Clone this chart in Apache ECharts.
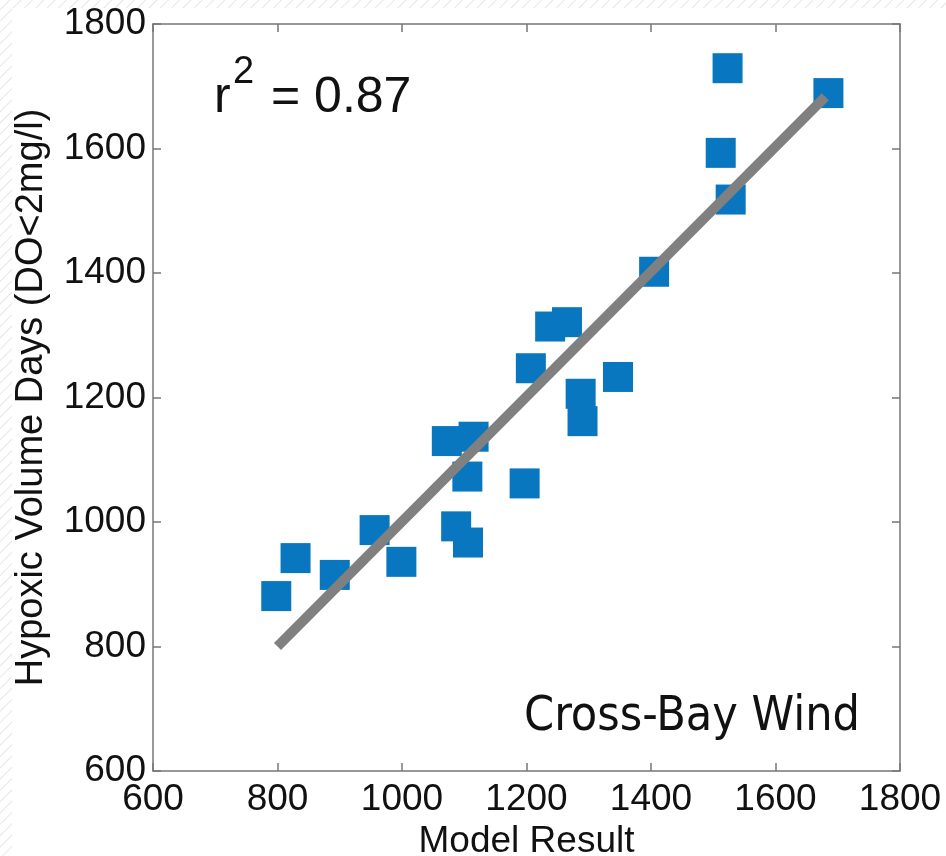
<!DOCTYPE html>
<html>
<head>
<meta charset="utf-8">
<script src="https://cdn.jsdelivr.net/npm/echarts@6/dist/echarts.min.js"></script>
<style>
  html, body { margin: 0; padding: 0; }
  #wrap { position: relative; width: 946px; height: 856px;
    background: repeating-linear-gradient(135deg, #ffffff 0px, #ffffff 6px, #e6e6e6 7px, #ffffff 8px); }
  #white { position: absolute; left: 12px; top: 8px; right: 0; bottom: 0; background: #ffffff; }
  #chart { position: absolute; left: 0; top: 0; width: 946px; height: 856px; }
</style>
</head>
<body>
<div id="wrap"><div id="white"></div><div id="chart"></div></div>
<script>
// Data
const modelResult = [798, 829, 892, 956, 999, 1072, 1115, 1105, 1087, 1106, 1197, 1207, 1238, 1265, 1287, 1290, 1347, 1405, 1512, 1523, 1528, 1685];
const hypoxicDays = [881, 942, 915, 987, 936, 1130, 1137, 1073, 993, 967, 1062, 1247, 1314, 1321, 1206, 1162, 1233, 1402, 1593, 1729, 1518, 1689];
const fitX = [800, 1680];
const fitY = [800, 1683];
const axisMin = 600, axisMax = 1800, axisStep = 200;
const xTitle = 'Model Result';
const yTitle = 'Hypoxic Volume Days (DO<2mg/l)';
const rsqLabel = '0.87';
const panelLabel = 'Cross-Bay Wind';

const points = modelResult.map((x, i) => [x, hypoxicDays[i]]);
const fitLine = fitX.map((x, i) => [x, fitY[i]]);

const chart = echarts.init(document.getElementById('chart'), null, { renderer: 'canvas' });
const tickFont = { fontFamily: 'Liberation Sans', fontSize: 37, color: '#111', formatter: v => String(v) };
const frameLine = { show: true, lineStyle: { color: '#777', width: 1.5 } };
const tickStyle = { show: true, inside: true, length: 8, lineStyle: { color: '#777', width: 1.5 } };

chart.setOption({
  backgroundColor: 'transparent',
  animation: false,
  grid: { left: 153, top: 24, right: 46, bottom: 85, show: true, backgroundColor: '#fff', borderWidth: 0,
          containLabel: false, outerBoundsMode: 'none' },
  xAxis: [
    { type: 'value', position: 'bottom', min: axisMin, max: axisMax, interval: axisStep,
      axisLine: frameLine, axisTick: tickStyle, splitLine: { show: false },
      axisLabel: Object.assign({ margin: 10, hideOverlap: false }, tickFont),
      name: xTitle, nameLocation: 'middle', nameGap: 47,
      nameTextStyle: { fontFamily: 'Liberation Sans', fontSize: 37, color: '#111' } },
    { type: 'value', position: 'top', min: axisMin, max: axisMax, interval: axisStep,
      axisLine: frameLine, axisTick: tickStyle, splitLine: { show: false }, axisLabel: { show: false } }
  ],
  yAxis: [
    { type: 'value', position: 'left', min: axisMin, max: axisMax, interval: axisStep,
      axisLine: frameLine, axisTick: tickStyle, splitLine: { show: false },
      axisLabel: Object.assign({ margin: 7, hideOverlap: false }, tickFont),
      name: yTitle, nameLocation: 'middle', nameGap: 102, nameRotate: 90,
      nameTextStyle: { fontFamily: 'Liberation Sans', fontSize: 38, color: '#111' } },
    { type: 'value', position: 'right', min: axisMin, max: axisMax, interval: axisStep,
      axisLine: frameLine, axisTick: tickStyle, splitLine: { show: false }, axisLabel: { show: false } }
  ],
  series: [
    { type: 'scatter', data: points, symbol: 'rect', symbolSize: 30,
      itemStyle: { color: '#0877bf', opacity: 1 }, z: 2 },
    { type: 'line', data: fitLine, symbol: 'none', z: 3,
      lineStyle: { color: '#808080', width: 10, cap: 'butt' } }
  ],
  graphic: [
    { type: 'text', left: 214, top: 73, style: { text: 'r', font: '50px "Liberation Sans"', fill: '#111' } },
    { type: 'text', left: 233, top: 54, style: { text: '2', font: '38px "Liberation Sans"', fill: '#111' } },
    { type: 'text', left: 271, top: 73, style: { text: '= ' + rsqLabel, font: '50px "Liberation Sans"', fill: '#111' } },
    { type: 'text', left: 524, top: 694, style: { text: panelLabel, font: '48px "DejaVu Sans Condensed", "DejaVu Sans"', fill: '#111' } }
  ]
});
</script>
</body>
</html>
